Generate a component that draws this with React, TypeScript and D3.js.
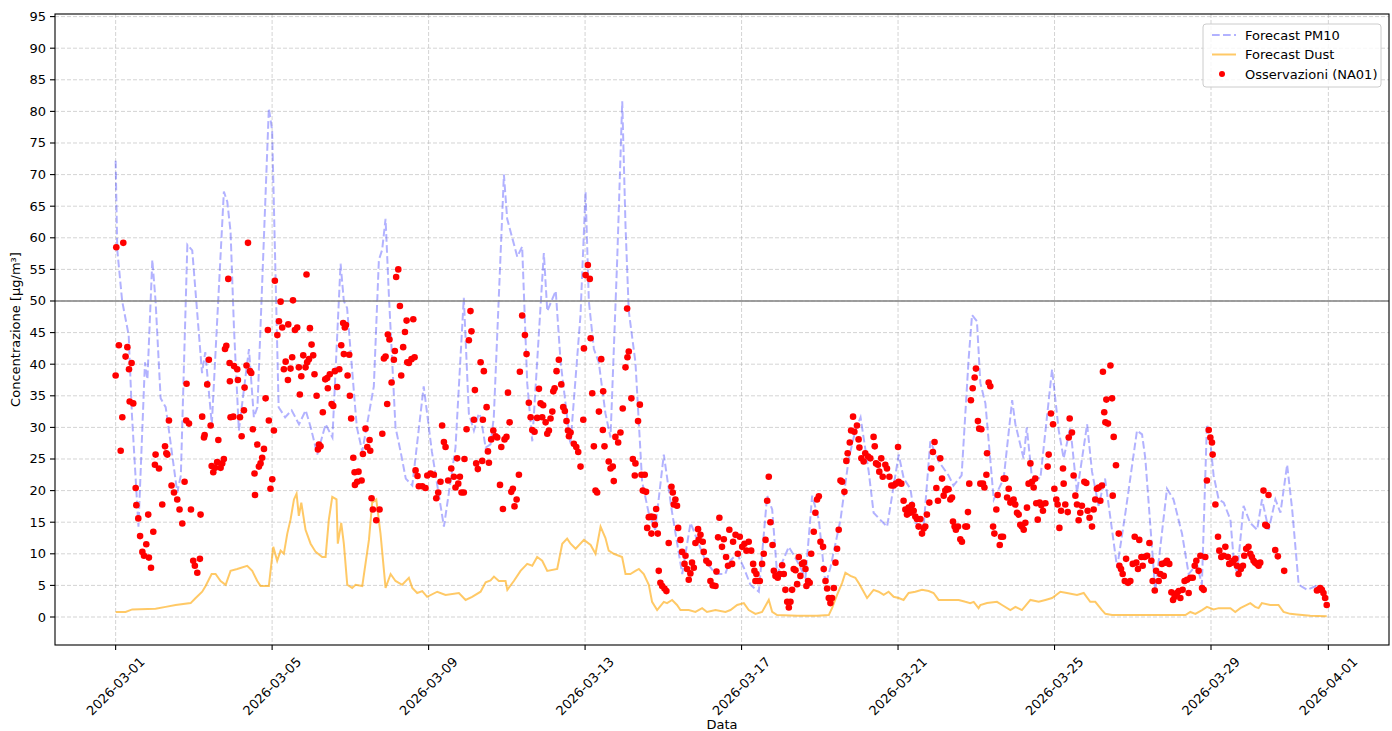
import React from "react";
import * as d3 from "d3";

// ---- Data (hours since 2026-03-01 00:00 UTC, value µg/m³) ----
const xTickLabels = ["2026-03-01","2026-03-05","2026-03-09","2026-03-13","2026-03-17","2026-03-21","2026-03-25","2026-03-29","2026-04-01"];
const yTickValues = [0,5,10,15,20,25,30,35,40,45,50,55,60,65,70,75,80,85,90,95];
const thresholdValue = 50;

const pm10Forecast: [number, number][] = [
[0,72.2],[1,58.1],[4,50],[8,44.6],[10,32],[14,14.3],[18,40.3],[19.5,37.6],[22.5,56.5],[24.5,50],[27.6,34.6],[30.7,33.2],[32.7,29.5],[37.8,19.7],[40,22.4],[44,58.9],[47,58],[53,38.6],[55,41.9],[59,30.5],[66.4,67.3],[68.5,65.7],[70.5,61],[72.6,45.7],[75.6,29.5],[78.7,36],[81.8,42.4],[84.8,31.6],[87,33.2],[94,80.5],[96,77],[100,33.2],[104,31.6],[108,32.7],[112.5,30.5],[116.6,32.7],[119.7,30],[123.7,25.7],[128.8,30.5],[133,28.4],[138,55.9],[140,50],[142,48.9],[147,33],[148,30],[151.3,26.2],[158.4,36.5],[161.5,56.5],[163.5,58.1],[165.6,63],[167.6,51.1],[171.7,30],[174.8,26.2],[178,21.9],[182,20.8],[189,36.5],[194,26.2],[201.4,14.3],[208.5,26.8],[213.6,50.5],[216.7,32.2],[219.8,29.5],[222.8,32.2],[224,31.6],[227,26.8],[230,27.3],[232,31.6],[238.2,70],[240.2,63],[246.4,57],[249.4,58.6],[252.5,37],[255.6,27.8],[262.7,57.6],[264.8,48.4],[270,51.6],[273,40.3],[279,27.3],[285.2,47.8],[288.3,67.3],[290.3,50],[293.4,42.4],[296.4,40.3],[300.5,32.2],[303.6,28.4],[307.7,56.5],[310.8,81.6],[312.8,61.9],[314.8,48.4],[318.9,40.3],[323,21.4],[327,16.5],[331,13.8],[336.3,25.7],[341.4,16.5],[347.6,6.8],[352.7,14.9],[357.7,11.6],[361.8,8.9],[368,6.8],[374,6.8],[377,8.9],[381.3,10],[385.4,7.8],[389.4,5.1],[394.6,4],[399.7,19.2],[402.8,17],[405.8,6.8],[413,11.1],[418,8.9],[423.2,6.2],[427.3,19.2],[431.4,15.4],[435.5,5.1],[438.5,7.8],[444.7,15.4],[449.8,25.1],[453.8,29.5],[457,31.6],[462,23],[465,16.5],[469,15.4],[473.3,14.3],[480.4,25.7],[483.5,21.9],[487.6,20.3],[490.6,14.9],[495.7,14.3],[499.8,27.8],[505,24.6],[511,22.4],[514,20.8],[519,22.4],[523.3,40.8],[525.4,47.8],[528.4,46.8],[530.5,37],[533.6,33.8],[538.7,18.6],[544.8,21.9],[550,34.3],[552,30.5],[557,25.1],[559,30],[562,22.4],[567.3,21.9],[574.5,39.2],[578.6,29.5],[581.6,25.1],[585.7,30],[589.8,19.7],[596,30.5],[599,23],[603,17.6],[607,21.9],[614.4,7.8],[619.5,16.5],[626.6,29.5],[629.7,28.9],[631.7,25.1],[637.8,4.1],[645,20.3],[649,18.6],[654.2,13.2],[658.3,6.8],[663.4,8.4],[666.4,5.1],[669.5,30.5],[671.5,27.8],[673.6,22.4],[676.7,18.6],[679.8,18.1],[683.9,15.4],[686,8.9],[688,6.8],[692,17.6],[696,14.9],[700.3,13.8],[703.3,18.6],[707.4,13.8],[711.5,18.6],[714.6,16.5],[718.7,24.1],[721.8,17],[725.8,5.1],[731,4.3],[738,5.1],[743,3]
];

const dustForecast: [number, number][] = [
[0,0.8],[6.1,0.8],[10.2,1.2],[24.5,1.3],[30.7,1.6],[36.8,1.9],[46,2.2],[49.1,3],[53.1,4],[55.2,4.9],[58.9,6.8],[61.3,6.8],[64.4,5.7],[67.5,5.1],[70.5,7.3],[74.6,7.6],[80.7,8.1],[83.8,7.3],[86.9,5.7],[88.9,4.9],[94,4.9],[96.7,11.1],[99.1,8.9],[101.2,10.5],[103.2,10],[105.3,13.2],[107.3,15.4],[109.4,18.6],[111,19.5],[112.4,16],[113.9,18.1],[116.5,13.8],[119.6,11.6],[122.7,10.3],[126.7,9.5],[128.8,9.5],[130.8,15.4],[132.9,19],[135.5,18.6],[136.3,11.6],[138.4,14.9],[140,11.6],[142.1,5.1],[145.1,4.6],[147.2,5.1],[151.3,4.9],[155.4,12.2],[157.4,18.1],[159.9,18.6],[162.5,13.2],[165.6,4.6],[168.7,6.8],[171.7,5.7],[175.8,5.1],[179.9,6.2],[182,4.6],[185,3.8],[188.1,4.1],[191.1,3.2],[197.3,4],[202.4,3.5],[210.6,3.8],[214.7,2.7],[218.7,3.2],[223.9,4],[227,5.5],[230,5.8],[232.1,6.4],[235.1,5.7],[239.2,5.7],[240.3,4.3],[244.3,5.7],[248.4,7.3],[252.5,8.4],[255.6,8.1],[258.6,9.5],[261.7,8.9],[264.8,7.3],[270.9,7.6],[274,11.6],[277,12.4],[279.1,11.6],[282.2,10.8],[287.3,12.2],[291.4,11.4],[294.4,10],[297.5,14.3],[300.5,12.5],[302.5,10.5],[305.6,10],[310.7,9.5],[312.8,6.8],[315.8,6.8],[318.9,7.3],[321,7.6],[324,6.8],[327.1,5.1],[329.1,2.4],[332.2,1.1],[336.3,2.4],[338.3,2.2],[341.4,2.7],[344.4,1.9],[346.5,1.1],[351.6,1.1],[355.7,0.8],[359.8,1.4],[362.8,0.8],[368,1.1],[374.1,0.8],[377.2,1.1],[381.3,1.9],[385.4,2.2],[388.4,1.1],[392.5,0.5],[396.6,0.8],[400.7,2.7],[402.8,0.8],[405.8,0.3],[418.1,0.2],[430.3,0.2],[437.5,0.3],[439.5,1.4],[442.6,3.5],[445.7,5.4],[447.7,7],[450.8,6.5],[453.8,6.2],[455.8,5.4],[458.9,4],[461,3],[465,4.3],[468.1,4],[471.2,3.5],[474.2,4],[477.3,3.2],[480.4,3],[483.4,2.7],[486.5,3.8],[490.6,4],[494.7,4.3],[498.8,4.1],[501.8,3.8],[504.9,2.7],[511,2.7],[517.2,2.7],[521.3,2.4],[524.3,2.2],[526.4,2.4],[529.4,1.4],[530.5,1.9],[534.6,2.2],[540.7,2.4],[543.8,1.9],[548.9,1.1],[552,1.6],[556,1.1],[561.2,2.7],[566.3,2.4],[570.4,2.7],[574.5,3],[579.6,4],[583.6,3.8],[589.8,3.5],[593.9,3.8],[597.9,2.4],[601,2.4],[605.1,1.1],[607.2,0.5],[611.3,0.3],[656.3,0.3],[659.3,0.8],[662.4,0.5],[666.5,1.1],[669.5,1.6],[673.6,1.2],[676.7,1.4],[683.9,1.4],[686.9,0.8],[690,1.4],[696.1,2.2],[699.1,1.6],[701.2,1.4],[703.2,2.2],[708.3,1.9],[713.4,1.9],[716.5,0.8],[720.6,0.5],[724.7,0.4],[732.9,0.2],[743,0.1]
];

const observations: [number, number][] = [
[0,38.2],[0.4,58.5],[2,43],[3.1,26.3],[4.1,31.6],[4.7,59.2],[6.1,41.2],[7.2,42.7],[8.2,39.2],[8.6,34.1],[9.8,40.2],[10.8,33.8],[12.3,20.4],[12.7,17.7],[13.9,15.6],[15,12.8],[16.4,10.3],[17.4,9.7],[18.8,11.5],[20,16.2],[20.4,9.4],[21.7,7.8],[23.1,13.5],[24.1,24.1],[24.5,25.7],[26.6,23.5],[28.6,17.8],[30.3,27],[31.1,25.9],[31.7,25.7],[32.7,31.1],[34.3,20.8],[35.8,19.7],[37.8,18.6],[39.2,17],[40.9,14.8],[42.3,21.4],[43.3,31.1],[43.5,36.9],[45,30.6],[46.2,17],[47.6,8.9],[48.6,8.1],[50.1,7],[51.7,9.2],[52.1,16.2],[53.1,31.7],[54.2,28.4],[54.6,28.8],[56.2,36.8],[57.2,40.7],[58.3,30.3],[58.9,23.9],[59.9,22.9],[61,23.6],[62.3,24.5],[63,28],[64.4,23.6],[65.4,24.3],[66.4,25],[67.1,42.4],[67.9,42.9],[69.1,53.5],[69.9,40.2],[70.1,37.3],[70.5,31.6],
[72.2,31.7],[72.6,39.7],[74.6,39.2],[75,37.5],[76.3,31.6],[77.3,28.6],[78.7,32.7],[79.1,36.3],[80.3,39.8],[81.2,59.2],[82.4,38.9],[83.2,38.6],[84.2,29.7],[85.2,22.7],[85.5,19.3],[86.9,27.3],[87.9,23.8],[88.9,24.3],[89.9,25.2],[91,26.6],[92,34.6],[93.4,45.4],[94,31.1],[95,20.3],[96.1,21.8],[97.1,29.5],[97.7,53.2],[99.2,44.6],[100.2,46.8],[101.2,49.9],[102.2,45.8],[103.2,39.2],[104.3,40.4],[105.7,37.5],[105.9,46.3],[107.3,39.3],[108.3,41.1],[108.8,50.1],[110,45.4],[111.4,45.8],[112.4,39.5],[113,35.2],[113.9,38.1],[115.1,41.4],[116.5,39.5],[117.1,54.2],[117.5,40.3],[118.6,40.8],[119.2,45.7],[120.2,43.1],[121.2,41.4],[122,38.4],[123.3,35],[124.1,26.5],[124.7,27.3],[125.7,27],[127.1,32.4],[128.6,37.6],[129.8,37.8],[130.2,36.2],[131.4,38.4],[132.5,33.7],[133.5,33.4],[134.5,38.9],[135.9,36.4],[137.2,39.2],[138.4,43],[139.6,46.5],[140,41.6],[140.6,45.8],[141.3,46.2],[142.3,38.2],[143.3,41.5],[143.7,35],[144.5,31.4],[145.8,25.2],[146.6,22.9],[146.8,20.9],
[148.2,21.4],[149,23],[150.9,21.6],[151.7,25.8],[153.3,29.8],[154.4,26.9],[155.8,28],[156.2,26.3],[157,18.8],[157.8,17],[159.9,15.3],[161.9,17],[163.6,29],[164.6,40.9],[165.6,41.2],[166.6,33.7],[167,44.7],[168,43.9],[169.3,37.1],[170.7,40.7],[171.3,42.1],[172.1,53.8],[173.4,55],[174.4,49.2],[175.2,38.2],[176.4,42.7],[177.5,45.1],[178.5,46.9],[178.9,40.3],[179.9,40.2],[181.5,40.8],[182.6,47.1],[183.4,41.1],[184,23.2],[185.2,22.3],[186,20.7],[188.1,20.7],[190.1,20.4],[191.2,22.4],[193.2,22.7],[195.2,22.5],[196.7,18.8],[197.9,19.7],[199.3,21.4],[200.3,30.3],[201.4,27.7],[202.4,26.9],[204,21.6],[205.9,23.5],[207.5,22.2],[208.5,20.5],[209.5,25.1],[210.2,21.1],[211.2,22.2],[212.2,19.7],[213.6,19.7],[214,25],[215.3,29.7],[216.7,43.8],[217.7,48.4],[218.3,45.2],[219.8,31.2],[220.4,35.9],[221.2,24.3],[222.2,23.4],[223.9,40.3],
[224.9,24.7],[225.3,31.2],[225.9,38.9],[227.6,33.2],[228.4,26.2],[229,24.4],[230.4,28.1],[231.7,29.5],[233.1,28.6],[234.1,28.4],[235.8,20.9],[236.6,26.9],[237.6,17.1],[238.6,28.1],[239.8,28.5],[240.7,35.5],[241.7,30.8],[242.7,19.8],[243.7,20.3],[244.7,17.5],[246,18.6],[247.4,22.5],[248,38.8],[249.4,47.7],[251.1,44.6],[252.1,41.6],[253.5,33.9],[254.6,31.6],[255.6,29.6],[257,29.3],[258.6,31.5],[259.7,36.1],[260.7,33.8],[261.7,31.6],[262.3,33.5],[263.8,30.8],[264.8,29],[265.8,29.5],[266.8,31.4],[267.9,32.5],[268.5,35.7],[269.3,36.2],[270.5,38.9],[271.9,40.7],[273.4,36.8],[274.6,33.2],[275.6,32.6],[276.6,31],[277.5,29.5],[278.1,28.6],[279.1,29.2],[281.1,27.4],[282.6,26.9],[283.8,26.1],[285.2,23.8],[286.9,31.2],[287.3,42.5],[288.3,54.1],[289.7,55.7],[290.9,53.5],[291.4,44.1],[292.4,35.4],[293.4,27],[294.4,20],[295.4,19.7],[296.5,32.5],[297.9,40.8],[298.9,29.6],[299.1,35.7],[299.9,27],
[302.5,24.6],[303.6,23.5],[305,23.8],[305.6,21.5],[306.6,28.5],[308.3,27.6],[309.7,29.2],[311.1,33],[312.8,39.5],[313.8,48.8],[314,41.1],[314.8,42],[316.4,34.6],[317.3,25],[318.5,22.4],[318.9,24.3],[320.5,31],[321.6,33.6],[322.6,22.5],[323.4,20],[324.6,22.5],[325.4,19.8],[326.1,14.1],[327.1,15.8],[328.5,15.9],[328.7,13.2],[330.1,15.8],[330.8,14.6],[331.6,17.1],[332.6,13.2],[333.2,7.3],[334.2,5.4],[335.3,4.9],[336.7,4.5],[337.9,4.1],[339.3,11.7],[341,20.6],[341.8,19.7],[342.4,17.8],[343.4,18.6],[344.4,17.6],[345.1,14.1],[346.5,12.2],[347.5,10.3],[349,8.4],[349.6,9.7],[350.6,7.6],[351.6,5.9],[352.6,6.9],[353.6,8.6],[354.7,7.8],[355.7,11.7],[357.3,13.9],[357.7,12.2],[358.8,13],[360.2,11.9],[360.8,10.3],[362.4,8.9],[363.9,8.5],[364.9,5.7],[366.3,5],[368,4.9],[368.6,7.2],[369.6,12.6],[370.4,15.7],[372,11.1],[373.1,12.3],[374.5,9.5],[375.7,8.1],[376.5,13.8],
[378.2,8.4],[378.8,11.9],[380.3,13],[381.7,10],[382.9,12.7],[384.4,11.1],[385.8,11.6],[387,10.5],[388.4,11.9],[389.9,10.5],[391.1,8.4],[391.9,7.3],[392.5,5.7],[393.1,6.8],[394,5.7],[395.2,5.7],[396.6,8.4],[397.6,10],[398.7,12.2],[399.7,18.4],[400.7,22.2],[401.7,15],[403,11.4],[403.8,7.3],[404.8,6.5],[406.2,6.2],[407.5,6.8],[408.9,8.2],[409.9,6.8],[410.9,4.3],[412,2.4],[413,1.5],[414,2.4],[415,4.3],[416,7.6],[417.1,7.4],[418.1,5.2],[419.1,9.5],[420.1,6.5],[421.1,8.4],[422.2,8.6],[423.2,7.6],[423.8,4.9],[424.8,5.7],[425.8,5.4],[426.7,10],[428.3,13.5],[429.3,16.5],[430.3,18.6],[431.4,19.1],[432.4,11.9],[434,11.1],[434.4,7.6],[435.5,5.7],[436.5,4.5],[437.5,3],[438.5,2.2],[439.5,3],[440.6,4.6],[441.6,8.6],[442.6,10.8],[443.6,13.8],[444.7,21.6],[445.7,21.4],[447.1,19.8],[448.3,24.7],[449.1,25.9],[450.4,27.6],[451.2,29.5],[452.4,31.7],[453.2,29.3],
[454.8,30.3],[455.8,28.1],[456.3,26.8],[457.5,25.1],[458.9,24.6],[459.9,25.9],[461.6,25.4],[463,25.1],[465,28.5],[465.7,27],[466.5,24.3],[467.7,24.1],[468.5,23],[469.7,25.1],[470.6,22.2],[472.2,24.1],[473.2,23.5],[474.7,22.2],[475.9,20.8],[477.3,20.8],[478.7,21.1],[480,26.9],[480.4,21.4],[482,21.1],[483.4,18.4],[484.5,17],[485.5,16.2],[486.5,17.3],[487.5,16.5],[488.5,17.7],[489.6,16.8],[490.6,15.9],[491.6,15.5],[492.6,14.3],[493.7,15.5],[494.7,13.2],[495.7,14],[496.7,14.3],[497.7,16.2],[499.2,18.1],[500.4,23.5],[501.4,26.1],[502.4,27.7],[503.5,20.4],[504.5,18.4],[505.9,25.1],[507,21.9],[508,19.2],[509,20],[510,20.3],[511,20.2],[512.1,18.6],[513.1,18.9],[513.7,15.1],[514.7,14.3],[515.5,13.8],[516.8,14.3],[518.2,12.3],[519.2,11.9],[521.3,14.3],[522.3,14.3],[522.9,16.6],[523.7,21.1],[524.7,34.3],[525.8,36.2],[527,37.9],[527.8,39.3],[529,31],[529.8,29.8],[530.5,21.1],
[531.1,29.7],[532.1,21.1],[533,20.5],[534.2,22.5],[534.6,25.9],[535.6,37.1],[536.6,36.5],[538.3,14.3],[539.1,13.2],[540.3,17],[541.1,19.3],[542.4,11.4],[543.2,12.7],[544.4,12.7],[544.8,21.9],[545.8,21.9],[546.9,18.9],[547.9,20.3],[548.9,18.1],[549.9,18.4],[550.9,18.6],[551.9,17.8],[553,16.5],[554,16.2],[555,14.6],[556,14.3],[557.1,13.8],[558.1,14.9],[559.1,17.3],[560.1,21.1],[561.2,24.3],[562.2,21.4],[563.2,20.5],[564.2,21.9],[564.8,18],[565.7,15.4],[566.9,18.1],[567.9,17.7],[568.9,16.8],[570.4,18],[571.8,23.8],[572.4,25.7],[573.8,32.2],[575.1,30.5],[575.9,20.3],[577.1,18.6],[577.9,17.8],[579,14.1],[580,16.8],[581.2,23.5],[581.6,21.1],[582.6,17.8],[584.1,16.6],[584.7,28.4],[585.3,31.4],[586.7,29.2],[587.7,22.4],[588.8,19.2],[589.8,17.8],[590.8,15.3],[591.8,16.5],[592.8,17.6],[594.3,21.4],[595.5,21.2],[596.3,16.8],[597.5,15.7],[599,14.3],[600,17],[601,18.6],[602,20.3],[603.1,20.5],[604.1,18.4],[605.1,20.8],[605.7,38.8],[606.5,32.4],[607.2,30.8],
[607.8,34.4],[608.8,30.6],[610.3,39.8],[611.3,34.6],[611.7,19.2],[612.3,28.5],[613.7,24],[615.4,13.2],[615.8,8.1],[616.8,7.6],[617.8,6.8],[619.1,5.7],[619.9,9.2],[621.1,5.4],[622.5,5.7],[624,8.4],[625.2,12.7],[626.2,8.6],[627.2,7.6],[628,12.2],[629.3,9.5],[630.1,8.1],[631.3,9.5],[632.8,9.7],[634.2,11.7],[635.4,8.9],[636.2,5.7],[637.5,4.2],[638.3,7.3],[639.9,5.7],[640.9,6.8],[641.9,8.4],[643,6.5],[644,8.6],[645,8.9],[646.4,8.4],[647.7,3.9],[648.7,2.7],[649.7,3.2],[651.1,3.8],[652.2,4.1],[653.2,3],[654.6,4.3],[655.8,5.7],[657.3,5.9],[658.3,3.8],[659.3,6.2],[660.8,6.2],[662,8.1],[663,8.9],[664.4,7.3],[665.5,9.7],[666.5,4.6],[667.5,4.3],[668.5,9.5],[669.5,21.6],[670.6,29.6],[671.6,28.4],[672.6,27.6],[673,25.7],[674.7,17.8],[676.3,12.7],[677.1,10.5],[678.3,9.5],[679.8,9.7],[680.8,11.1],[682.4,9.5],[683.2,8.4],
[684.8,8.6],[685.8,8.9],[686.9,9.2],[687.9,8.1],[688.9,6.8],[690.3,7.6],[691.6,8.1],[692.4,9.7],[693.6,10.8],[695,11.1],[696.1,10],[697.1,9.5],[698.1,8.9],[699.1,8.6],[700.2,8.4],[701.2,8.1],[702.2,8.6],[704.2,20],[705.3,14.6],[706.3,14.4],[707.3,19.3],[711.4,10.6],[713,9.6],[716.9,7.3],[737,4.2],[738,4.3],[739,4.6],[740,4.3],[741,3.8],[742,3],[743,1.9]
];

// ---- Layout ----
const W = 1392, H = 731;
const L = 55, R = 1389, T = 14, B = 645;
const FONT = "'DejaVu Sans', sans-serif";
const FS = 13;
const t0 = Date.UTC(2026, 2, 1);
const toDate = (h: number) => new Date(t0 + h * 3600e3);
const parseDay = (s: string) => { const [y, m, d] = s.split("-").map(Number); return new Date(Date.UTC(y, m - 1, d)); };

export default function App() {
  const x = d3.scaleUtc().domain([toDate(-37.2), toDate(781.2)]).range([L, R]);
  const y = d3.scaleLinear().domain([-4.43, 95.41]).range([B, T]);
  const line = d3.line<[number, number]>().x(d => x(toDate(d[0]))).y(d => y(d[1]));
  const xTicks = xTickLabels.map(s => ({ label: s, pos: x(parseDay(s)) }));
  const labelHalf = (5.81 * FS + FS) / (2 * Math.SQRT2);
  const labelTop = B + 10;

  return (
    <svg width={W} height={H} style={{ position: "absolute", left: 0, top: 0, background: "#fff" }} fontFamily={FONT}>
      <rect x={0} y={0} width={W} height={H} fill="#fff" />
      <defs>
        <clipPath id="plotclip"><rect x={L} y={T} width={R - L} height={B - T} /></clipPath>
      </defs>
      {/* grid */}
      <g stroke="#b0b0b0" strokeOpacity={0.55} strokeWidth={1} strokeDasharray="4,2">
        {yTickValues.map(v => <line key={"gy" + v} x1={L} x2={R} y1={y(v)} y2={y(v)} />)}
        {xTicks.map(t => <line key={"gx" + t.label} x1={t.pos} x2={t.pos} y1={T} y2={B} />)}
      </g>
      <g clipPath="url(#plotclip)">
        <path d={line(pm10Forecast) || ""} fill="none" stroke="#0000ff" strokeOpacity={0.3} strokeWidth={2} strokeDasharray="7.7,3.3" />
        <path d={line(dustForecast) || ""} fill="none" stroke="#ffa500" strokeOpacity={0.6} strokeWidth={2} />
        <line x1={L} x2={R} y1={y(thresholdValue)} y2={y(thresholdValue)} stroke="#808080" strokeWidth={1.5} />
        {observations.map((d, i) => <circle key={i} cx={x(toDate(d[0]))} cy={y(d[1])} r={3.3} fill="#ff0000" />)}
      </g>
      {/* frame */}
      <rect x={L} y={T} width={R - L} height={B - T} fill="none" stroke="#000" strokeWidth={1.1} />
      {/* y ticks */}
      {yTickValues.map(v => (
        <g key={"yt" + v}>
          <line x1={L - 5} x2={L} y1={y(v)} y2={y(v)} stroke="#000" strokeWidth={1.1} />
          <text x={L - 9} y={y(v)} textAnchor="end" dominantBaseline="central" fontSize={FS} fill="#000">{v}</text>
        </g>
      ))}
      {/* x ticks */}
      {xTicks.map(t => (
        <g key={"xt" + t.label}>
          <line x1={t.pos} x2={t.pos} y1={B} y2={B + 5} stroke="#000" strokeWidth={1.1} />
          <text transform={`translate(${t.pos},${labelTop + labelHalf}) rotate(-45)`} textAnchor="middle" dominantBaseline="central" fontSize={FS} fill="#000">{t.label}</text>
        </g>
      ))}
      <text x={(L + R) / 2} y={724} textAnchor="middle" dominantBaseline="central" fontSize={FS} fill="#000">Data</text>
      <text transform={`translate(15,${(T + B) / 2}) rotate(-90)`} textAnchor="middle" dominantBaseline="central" fontSize={FS} fill="#000">Concentrazione [µg/m³]</text>
      {/* legend */}
      <g>
        <rect x={1203} y={24} width={178} height={63} rx={3} fill="#fff" fillOpacity={0.8} stroke="#cccccc" strokeWidth={1} />
        <line x1={1212} x2={1236} y1={35} y2={35} stroke="#0000ff" strokeOpacity={0.3} strokeWidth={2} strokeDasharray="7.7,3.3" />
        <text x={1245} y={35} dominantBaseline="central" fontSize={FS} fill="#000">Forecast PM10</text>
        <line x1={1212} x2={1236} y1={54.5} y2={54.5} stroke="#ffa500" strokeOpacity={0.6} strokeWidth={2} />
        <text x={1245} y={54.5} dominantBaseline="central" fontSize={FS} fill="#000">Forecast Dust</text>
        <circle cx={1222} cy={74} r={3} fill="#ff0000" />
        <text x={1245} y={74} dominantBaseline="central" fontSize={FS} fill="#000">Osservazioni (NA01)</text>
      </g>
    </svg>
  );
}
